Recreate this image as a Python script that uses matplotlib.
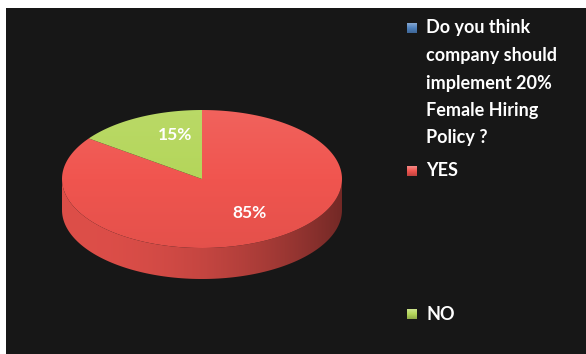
import numpy as np
import matplotlib.pyplot as plt
from matplotlib.patches import Polygon, Rectangle
from matplotlib.colors import LinearSegmentedColormap, to_rgb

# Survey answers
labels = ["Do you think\ncompany should\nimplement 20%\nFemale Hiring\nPolicy ?", "YES", "NO"]
values = [0, 85, 15]
colors = ["#4F81BD", "#F0554F", "#B4D65A"]

# pie geometry, pixel units
cx, cy = 202, 179
rx, ry = 140, 69
depth = 31
bg = "#171717"
font = dict(color="white", family="Lato", weight="bold")

fig = plt.figure(figsize=(5.86, 3.54), dpi=100)
fig.patch.set_facecolor("white")
ax = fig.add_axes([6 / 586, 0, 580 / 586, 346 / 354])
ax.set_facecolor(bg)
ax.set_xticks([])
ax.set_yticks([])
for s in ax.spines.values():
    s.set_visible(False)


def shade(c, f):
    c = np.array(to_rgb(c))
    if f >= 1:
        return tuple(c + (1 - c) * (f - 1))
    return tuple(c * f)


def ell(t):
    t = np.radians(t)
    return cx + rx * np.cos(t), cy - ry * np.sin(t)


total = float(sum(values))
# slices run clockwise from 12 o'clock
angles = []
a = 90.0
for v in values:
    span = 360.0 * v / total
    angles.append((a - span, a))
    a -= span

# side wall (front half only: angles 180..360)
for (t0, t1), v, c in zip(angles, values, colors):
    if v == 0:
        continue
    for k in (-360, 0, 360):
        lo, hi = max(t0 + k, -180), min(t1 + k, 0)
        if hi <= lo:
            continue
        ts = np.linspace(lo, hi, 120)
        xs, ys = ell(ts)
        pts = np.vstack([np.c_[xs, ys], np.c_[xs[::-1], ys[::-1] + depth]])
        poly = Polygon(pts, closed=True, facecolor="none", edgecolor="none")
        ax.add_patch(poly)
        # horizontal lighting: brighter on the left-front, darker to the right
        xx = np.linspace(cx - rx, cx + rx, 300)
        u = (xx - cx) / rx
        f = 0.82 - 0.22 * u - 0.12 * u ** 2
        grad = np.array([shade(c, fi) for fi in f])[None, :, :]
        im = ax.imshow(grad, extent=(cx - rx, cx + rx, cy + depth + ry + 2, cy - 2),
                       aspect="auto", zorder=2, interpolation="bilinear")
        im.set_clip_path(poly)

# top face
for (t0, t1), v, c in zip(angles, values, colors):
    if v == 0:
        continue
    ts = np.linspace(t0, t1, 200)
    xs, ys = ell(ts)
    pts = np.vstack([[cx, cy], np.c_[xs, ys]])
    poly = Polygon(pts, closed=True, facecolor="none", edgecolor="none")
    ax.add_patch(poly)
    cmap = LinearSegmentedColormap.from_list("g", [shade(c, 1.08), c, shade(c, 0.95)])
    grad = np.linspace(0, 1, 200)[:, None]
    im = ax.imshow(grad, cmap=cmap, extent=(cx - rx - 2, cx + rx + 2, cy + ry + 2, cy - ry - 2),
                   aspect="auto", zorder=3, interpolation="bilinear")
    im.set_clip_path(poly)

# percentage labels
label_r = {1: (0.74, 0.56), 2: (0.42, 0.72)}
for i, ((t0, t1), v) in enumerate(zip(angles, values)):
    if v == 0:
        continue
    m = np.radians((t0 + t1) / 2)
    fx, fy = label_r[i]
    ax.text(cx + rx * fx * np.cos(m), cy - ry * fy * np.sin(m), f"{v / total:.0%}",
            fontsize=12.5, ha="center", va="center", zorder=5, **font)

# legend
legend_y = [28, 171, 314]
for lab, c, y in zip(labels, colors, legend_y):
    sq = Rectangle((407, y - 5), 10, 10, facecolor="none", edgecolor="none", zorder=5)
    ax.add_patch(sq)
    cmap = LinearSegmentedColormap.from_list("k", [shade(c, 1.3), c, shade(c, 0.8)])
    im = ax.imshow(np.linspace(0, 1, 20)[:, None], cmap=cmap,
                   extent=(407, 417, y + 5, y - 5), aspect="auto", zorder=5)
    im.set_clip_path(sq)
    for j, line in enumerate(lab.split("\n")):
        ax.text(426, y + 27.5 * j, line, fontsize=13, ha="left", va="center",
                zorder=5, **font)

ax.set_xlim(6, 586)
ax.set_ylim(354, 8)
fig.savefig("out.png", dpi=100, facecolor=fig.get_facecolor())
